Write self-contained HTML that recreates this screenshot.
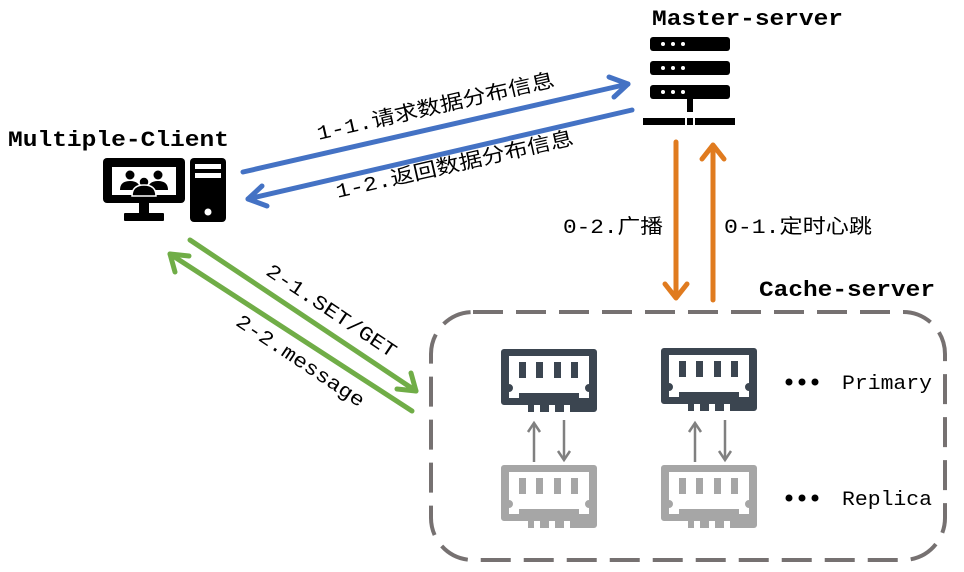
<!DOCTYPE html>
<html><head><meta charset="utf-8"><style>
body{margin:0;background:#fff;}
svg{display:block;}
text{font-family:"Liberation Mono","Noto Sans CJK SC",monospace;}
</style></head><body>
<svg width="964" height="572" viewBox="0 0 964 572" xmlns="http://www.w3.org/2000/svg">
<defs>
<symbol id="ram" viewBox="0 0 98 66">
<path d="M4,2 H94 a3,3 0 0 1 3,3 V62 a3,3 0 0 1 -3,3 H70 V58 H64 V65 H55 V58 H49 V65 H40 V58 H34 V65 H28 V58 H4 a3,3 0 0 1 -3,-3 V5 a3,3 0 0 1 3,-3 Z M9,9 V37 a4,4 0 0 1 0,8 V51 H19 V46 H79 V51 H89 V45 a4,4 0 0 1 0,-8 V9 Z" fill-rule="evenodd"/>
<rect x="19" y="15" width="7" height="16"/><rect x="36" y="15" width="7" height="16"/><rect x="54" y="15" width="7" height="16"/><rect x="71" y="15" width="7" height="16"/>
</symbol>
</defs>

<!-- titles -->
<text x="652" y="25" font-size="22" font-weight="bold" textLength="191" lengthAdjust="spacingAndGlyphs">Master-server</text>
<text x="8" y="146" font-size="22" font-weight="bold" textLength="221" lengthAdjust="spacingAndGlyphs">Multiple-Client</text>
<text x="759" y="296" font-size="22" font-weight="bold" textLength="176" lengthAdjust="spacingAndGlyphs">Cache-server</text>

<!-- server -->
<g fill="#000">
<rect x="650" y="37" width="80" height="14" rx="3"/>
<rect x="650" y="61" width="80" height="14" rx="3"/>
<rect x="650" y="85" width="80" height="14" rx="3"/>
<rect x="687" y="98" width="6" height="14"/>
<rect x="643" y="118" width="42" height="7"/>
<rect x="687" y="118" width="6" height="7"/>
<rect x="695" y="118" width="40" height="7"/>
</g>
<g fill="#fff">
<circle cx="663" cy="44" r="2"/><circle cx="673" cy="44" r="2"/><circle cx="683" cy="44" r="2"/>
<circle cx="663" cy="68" r="2"/><circle cx="673" cy="68" r="2"/><circle cx="683" cy="68" r="2"/>
<circle cx="663" cy="92" r="2"/><circle cx="673" cy="92" r="2"/><circle cx="683" cy="92" r="2"/>
</g>

<!-- client -->
<g fill="#000">
<rect x="103" y="158" width="82" height="45" rx="4"/>
<rect x="139" y="203" width="10" height="11"/>
<rect x="124" y="213" width="40" height="8" rx="1"/>
<rect x="190" y="158" width="36" height="64" rx="4"/>
</g>
<rect x="112" y="167" width="64" height="28" fill="#fff"/>
<g fill="#000">
<circle cx="130" cy="175" r="4.5"/><circle cx="158" cy="175" r="4.5"/>
<path d="M120,190 q0,-9 10,-9 q10,0 10,9 z"/><path d="M148,190 q0,-9 10,-9 q10,0 10,9 z"/>
<circle cx="144" cy="182" r="5" stroke="#fff" stroke-width="1.5"/>
<path d="M132,196 q0,-11 12,-11 q12,0 12,11 z" stroke="#fff" stroke-width="1.5"/>
</g>
<rect x="195" y="164" width="26" height="5" fill="#fff"/>
<rect x="195" y="173" width="26" height="5" fill="#fff"/>
<circle cx="208" cy="212" r="3.5" fill="#fff"/>

<!-- blue arrows -->
<g stroke="#4472c4" stroke-width="5" fill="none" stroke-linecap="round" stroke-linejoin="round">
<line x1="243" y1="172" x2="628" y2="84"/>
<polyline points="609,77 628,84 614,97"/>
<line x1="632" y1="110" x2="248" y2="199"/>
<polyline points="267,206 248,199 262,186"/>
</g>
<text transform="translate(437,113) rotate(-12.8)" font-size="20" text-anchor="middle" textLength="243" lengthAdjust="spacingAndGlyphs">1-1.请求数据分布信息</text>
<text transform="translate(456,171) rotate(-12.8)" font-size="20" text-anchor="middle" textLength="243" lengthAdjust="spacingAndGlyphs">1-2.返回数据分布信息</text>

<!-- orange arrows -->
<g stroke="#e07b1f" stroke-width="5" fill="none" stroke-linecap="round" stroke-linejoin="round">
<line x1="676" y1="142" x2="676" y2="297"/>
<polyline points="665,284 676,298 687,284"/>
<line x1="713" y1="300" x2="713" y2="146"/>
<polyline points="702,159 713,145 724,159"/>
</g>
<text x="563" y="233" font-size="20" textLength="100" lengthAdjust="spacingAndGlyphs">0-2.广播</text>
<text x="724" y="233" font-size="20" textLength="148" lengthAdjust="spacingAndGlyphs">0-1.定时心跳</text>

<!-- green arrows -->
<g stroke="#70ad47" stroke-width="5" fill="none" stroke-linecap="round" stroke-linejoin="round">
<line x1="190" y1="240" x2="416" y2="391"/>
<polyline points="397,389 416,391 411,373"/>
<line x1="412" y1="411" x2="170" y2="254"/>
<polyline points="189,256 170,254 175,272"/>
</g>
<text transform="translate(328,316) rotate(33.7)" font-size="20" text-anchor="middle" textLength="152" lengthAdjust="spacingAndGlyphs">2-1.SET/GET</text>
<text transform="translate(297,366) rotate(33.7)" font-size="20" text-anchor="middle" textLength="150" lengthAdjust="spacingAndGlyphs">2-2.message</text>

<!-- dashed box -->
<rect x="431" y="312" width="514" height="248" rx="42" fill="none" stroke="#767171" stroke-width="4" stroke-dasharray="30,13"/>

<!-- rams -->
<use href="#ram" x="500" y="347" width="98" height="66" fill="#3b4550"/>
<use href="#ram" x="660" y="346" width="98" height="66" fill="#3b4550"/>
<use href="#ram" x="500" y="463" width="98" height="66" fill="#a6a6a6"/>
<use href="#ram" x="660" y="463" width="98" height="66" fill="#a6a6a6"/>

<g stroke="#808080" stroke-width="2.5" fill="none">
<line x1="534" y1="462" x2="534" y2="424"/><polyline points="528,432 534,423 540,432"/>
<line x1="564" y1="420" x2="564" y2="460"/><polyline points="558,451 564,460 570,451"/>
<line x1="695" y1="462" x2="695" y2="424"/><polyline points="689,432 695,423 701,432"/>
<line x1="725" y1="420" x2="725" y2="460"/><polyline points="719,451 725,460 731,451"/>
</g>

<g fill="#000">
<circle cx="789" cy="382" r="3.5"/><circle cx="802" cy="382" r="3.5"/><circle cx="815" cy="382" r="3.5"/>
<circle cx="789" cy="498" r="3.5"/><circle cx="802" cy="498" r="3.5"/><circle cx="815" cy="498" r="3.5"/>
</g>
<text x="842" y="389" font-size="20" textLength="90" lengthAdjust="spacingAndGlyphs">Primary</text>
<text x="842" y="505" font-size="20" textLength="90" lengthAdjust="spacingAndGlyphs">Replica</text>
</svg>
</body></html>
